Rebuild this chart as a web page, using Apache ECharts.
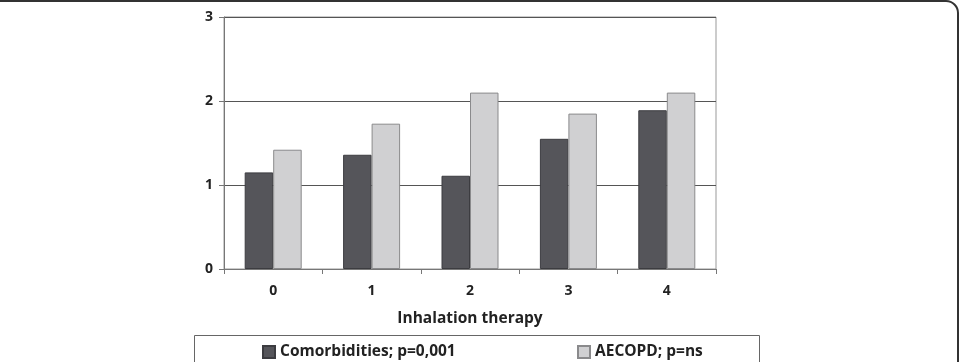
<!DOCTYPE html>
<html>
<head>
<meta charset="utf-8">
<style>
  html, body { margin: 0; padding: 0; background: #fff; }
  #chart { width: 961px; height: 362px; }
</style>
<script src="https://cdn.jsdelivr.net/npm/echarts@6/dist/echarts.min.js"></script>
</head>
<body>
<div id="chart"></div>
<script>
// categories on the x axis
const categories = ['0', '1', '2', '3', '4'];
// series values
const comorbidities = [1.15, 1.36, 1.11, 1.55, 1.89];
const aecopd = [1.42, 1.73, 2.10, 1.85, 2.10];
const nameComorb = 'Comorbidities; p=0,001';
const nameAecopd = 'AECOPD; p=ns';

const font = '"Open Sans", "DejaVu Sans", sans-serif';

let myChart = echarts.init(document.getElementById('chart'));

let legendText = { fontSize: 15.5, fontWeight: 'bold', color: '#222', fontFamily: font };

let option = {
  animation: false,
  backgroundColor: '#fff',
  textStyle: { fontFamily: font },
  graphic: [
    // outer frame of the figure
    {
      type: 'rect',
      shape: { x: -30, y: 1, width: 988, height: 400, r: 12 },
      style: { fill: 'none', stroke: '#333', lineWidth: 2 },
      silent: true
    },
    // legend box
    {
      type: 'rect',
      shape: { x: 194.5, y: 335.5, width: 565, height: 40 },
      style: { fill: '#fff', stroke: '#666', lineWidth: 1 },
      silent: true
    }
  ],
  legend: [{
    data: [nameComorb],
    left: 257,
    top: 339,
    icon: 'rect',
    itemWidth: 12,
    itemHeight: 12,
    textStyle: legendText
  }, {
    data: [nameAecopd],
    left: 572,
    top: 339,
    icon: 'rect',
    itemWidth: 12,
    itemHeight: 12,
    textStyle: legendText
  }],
  grid: {
    left: 224,
    right: 245,
    top: 17,
    bottom: 93,
    show: true,
    borderColor: '#999',
    borderWidth: 1
  },
  xAxis: {
    type: 'category',
    data: categories,
    name: 'Inhalation therapy',
    nameLocation: 'middle',
    nameGap: 42,
    nameTextStyle: { fontSize: 15.5, fontWeight: 'bold', color: '#222' },
    axisLine: { lineStyle: { color: '#777' } },
    axisTick: { show: true, interval: 0, length: 5, lineStyle: { color: '#777' } },
    axisLabel: { margin: 15, fontSize: 14, fontWeight: 'bold', color: '#222' }
  },
  yAxis: {
    type: 'value',
    min: 0,
    max: 3,
    interval: 1,
    axisLine: { show: true, lineStyle: { color: '#777' } },
    axisTick: { show: true, length: 5, lineStyle: { color: '#777' } },
    axisLabel: { margin: 11, fontSize: 14, fontWeight: 'bold', color: '#222' },
    splitLine: { show: true, lineStyle: { color: '#555', width: 1 } }
  },
  series: [{
    name: nameComorb,
    type: 'bar',
    data: comorbidities,
    barWidth: 28.5,
    barGap: '0%',
    itemStyle: { color: '#55555a', borderColor: '#3c3c40', borderWidth: 1 }
  }, {
    name: nameAecopd,
    type: 'bar',
    data: aecopd,
    barWidth: 28.5,
    barGap: '0%',
    itemStyle: { color: '#d0d0d2', borderColor: '#8a8a8c', borderWidth: 1 }
  }]
};

myChart.setOption(option);
window.addEventListener('resize', () => {
  myChart.resize();
});
</script>
</body>
</html>
